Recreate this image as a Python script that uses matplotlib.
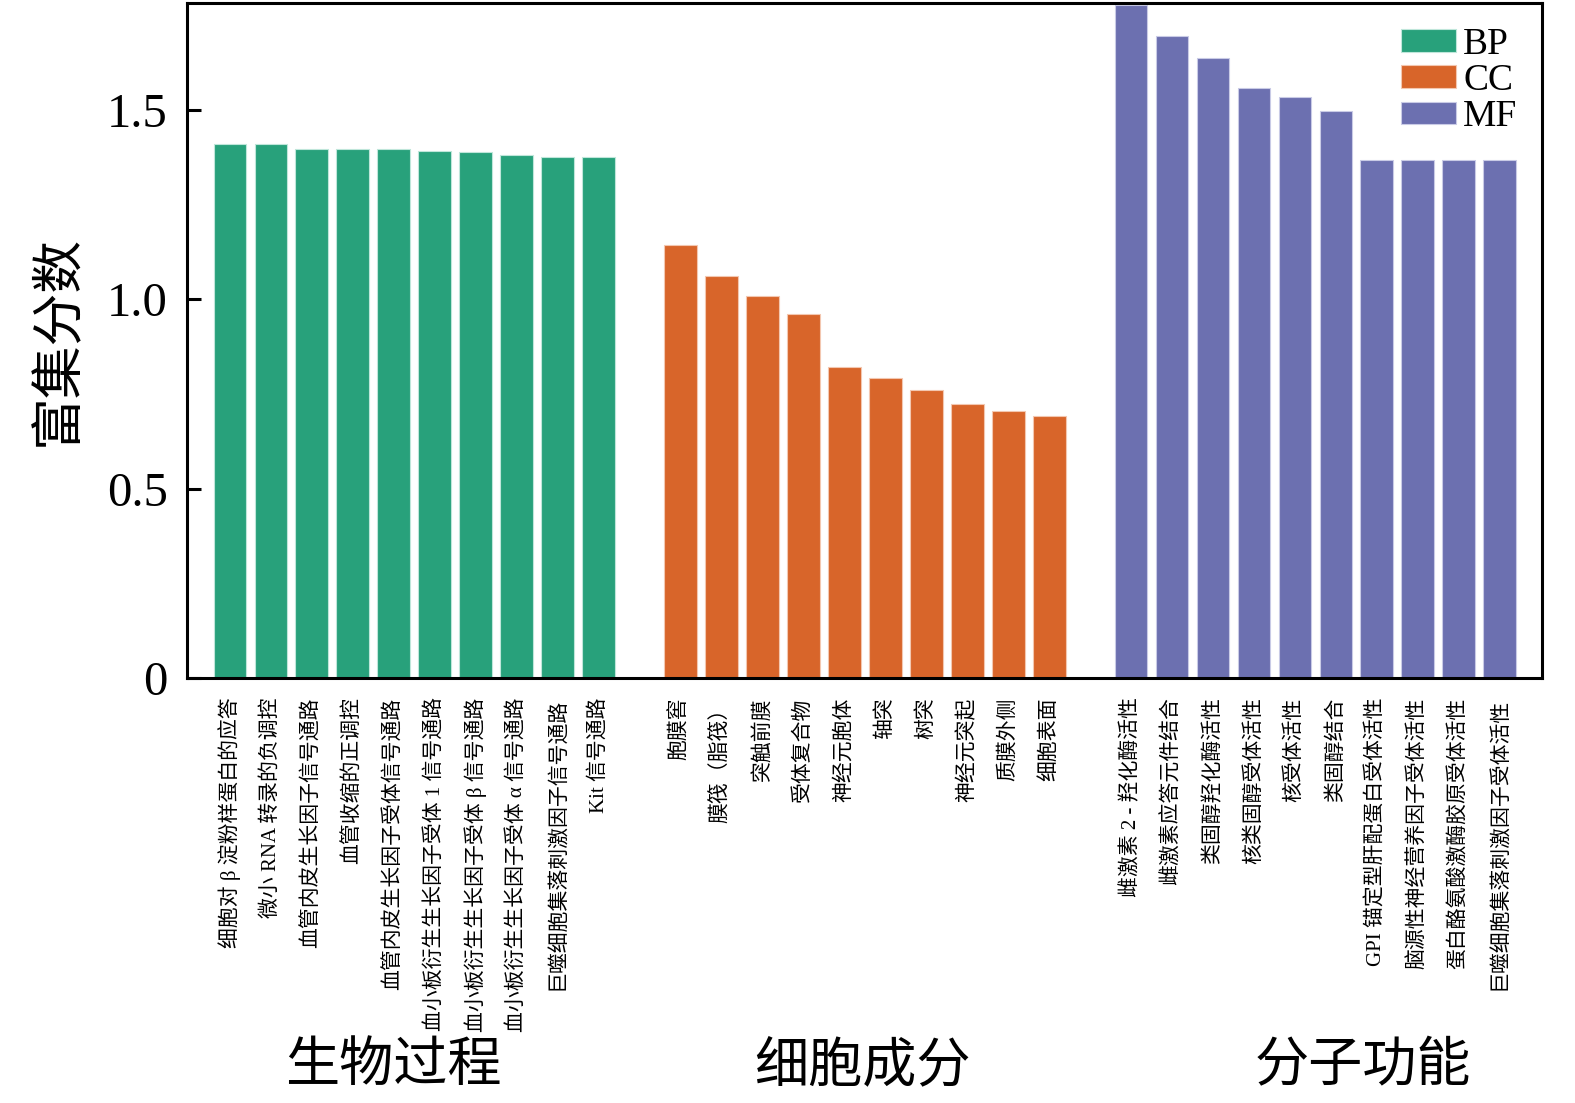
import matplotlib
matplotlib.use("Agg")
import matplotlib.pyplot as plt
from matplotlib.patches import Patch
import matplotlib.transforms as mtransforms

plt.rcParams['font.family'] = ['Liberation Serif', 'Noto Sans CJK SC', 'DejaVu Sans']

bp_labels = ["细胞对 β 淀粉样蛋白的应答", "微小 RNA 转录的负调控", "血管内皮生长因子信号通路",
             "血管收缩的正调控", "血管内皮生长因子受体信号通路", "血小板衍生生长因子受体 1 信号通路",
             "血小板衍生生长因子受体 β 信号通路", "血小板衍生生长因子受体 α 信号通路",
             "巨噬细胞集落刺激因子信号通路", "Kit 信号通路"]
bp_values = [1.410, 1.408, 1.395, 1.395, 1.395, 1.392, 1.387, 1.381, 1.374, 1.374]

cc_labels = ["胞膜窖", "膜筏（脂筏）", "突触前膜", "受体复合物", "神经元胞体", "轴突", "树突",
             "神经元突起", "质膜外侧", "细胞表面"]
cc_values = [1.144, 1.062, 1.007, 0.960, 0.820, 0.791, 0.759, 0.722, 0.704, 0.691]

mf_labels = ["雌激素 2 - 羟化酶活性", "雌激素应答元件结合", "类固醇羟化酶活性", "核类固醇受体活性",
             "核受体活性", "类固醇结合", "GPI 锚定型肝配蛋白受体活性", "脑源性神经营养因子受体活性",
             "蛋白酪氨酸激酶胶原受体活性", "巨噬细胞集落刺激因子受体活性"]
mf_values = [1.777, 1.693, 1.635, 1.556, 1.532, 1.497, 1.368, 1.368, 1.368, 1.368]

groups = ["BP", "CC", "MF"]
group_titles = ["生物过程", "细胞成分", "分子功能"]
colors = ["#28a17b", "#d8652a", "#6c70b0"]
edge_colors = ["#bfe6da", "#f3c7b0", "#c9cbe6"]
yticks = [0, 0.5, 1.0, 1.5]
ytick_labels = ["0", "0.5", "1.0", "1.5"]

fig = plt.figure(figsize=(15.75, 11.03), dpi=100)
ax = fig.add_axes([0.1187, 0.3853, 0.979 - 0.1187, 0.9975 - 0.3853])

all_labels = []
all_pos = []
handles = []
title_x = [3.98, 15.45, 27.65]
for gi, (labs, vals) in enumerate([(bp_labels, bp_values), (cc_labels, cc_values), (mf_labels, mf_values)]):
    pos = [gi * 11 + i for i in range(len(vals))]
    ax.bar(pos, vals, width=0.8, color=colors[gi], edgecolor=edge_colors[gi], linewidth=0.8)
    all_labels += labs
    all_pos += pos
    handles.append(Patch(facecolor=colors[gi], edgecolor=edge_colors[gi], linewidth=0.8, label=groups[gi]))

ax.set_xlim(-1.05, 32.03)
ax.set_ylim(0, 1.782)
ax.set_yticks(yticks)
ax.set_yticklabels(ytick_labels, fontsize=35)
ax.set_xticks(all_pos)
ax.set_xticklabels(all_labels, rotation=90, ha='center', va='top', fontsize=15)
ax.tick_params(axis='x', length=0, pad=14)
ax.tick_params(axis='y', direction='in', length=10, width=2.2, pad=14)
for s in ax.spines.values():
    s.set_linewidth(2.2)
ax.set_ylabel("富集分数", fontsize=38, labelpad=16)

trans = mtransforms.blended_transform_factory(ax.transData, fig.transFigure)
for gi in range(3):
    fig.text(title_x[gi], 0.032, group_titles[gi], transform=trans, ha='center', va='center', fontsize=39)

leg = ax.legend(handles=handles, loc='upper right', frameon=False, fontsize=27,
                handlelength=1.45, handleheight=0.55, handletextpad=0.2, labelspacing=0.05,
                borderaxespad=0.25)

fig.savefig("out.png", dpi=100)
